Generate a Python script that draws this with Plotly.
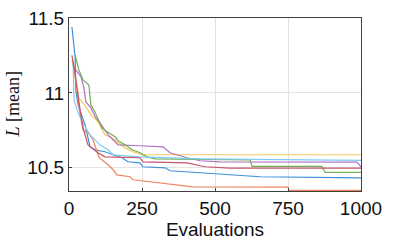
import plotly.graph_objects as go

# Evaluations / L[mean] values per run
x_blue = [10, 14, 21, 24, 31, 55, 72, 89, 123, 151, 182, 202, 243, 253, 329, 346, 449, 585, 654, 1000]
y_blue = [11.44, 11.373, 11.24, 11.007, 10.92, 10.787, 10.64, 10.62, 10.607, 10.587, 10.567, 10.54, 10.533, 10.507, 10.5, 10.48, 10.467, 10.453, 10.44, 10.433]

x_orange = [15, 38, 48, 72, 82, 96, 103, 134, 151, 164, 209, 219, 271, 425, 750, 753, 1000]
y_orange = [11.2, 10.853, 10.753, 10.72, 10.687, 10.6, 10.567, 10.52, 10.487, 10.453, 10.44, 10.42, 10.407, 10.373, 10.371, 10.349, 10.349]

x_yellow = [10, 24, 34, 58, 75, 99, 123, 147, 168, 192, 219, 250, 1000]
y_yellow = [11.22, 11.087, 10.967, 10.907, 10.853, 10.807, 10.72, 10.7, 10.667, 10.633, 10.607, 10.587, 10.587]

x_purple = [17, 24, 41, 51, 58, 75, 92, 106, 134, 151, 168, 243, 322, 346, 404, 449, 517, 986, 1000]
y_purple = [11.173, 11.153, 11.107, 11.033, 10.94, 10.9, 10.833, 10.8, 10.72, 10.687, 10.653, 10.647, 10.64, 10.6, 10.567, 10.547, 10.54, 10.538, 10.507]

x_green = [21, 34, 48, 68, 75, 89, 113, 130, 158, 168, 192, 216, 243, 267, 295, 620, 627, 866, 877, 1000]
y_green = [11.253, 11.153, 11.087, 11.053, 10.92, 10.873, 10.767, 10.74, 10.707, 10.68, 10.653, 10.62, 10.6, 10.573, 10.56, 10.553, 10.51, 10.509, 10.469, 10.469]

x_lightblue = [14, 17, 31, 51, 72, 106, 134, 151, 192, 243, 449, 1000]
y_lightblue = [11.22, 10.953, 10.867, 10.787, 10.72, 10.653, 10.62, 10.587, 10.58, 10.573, 10.56, 10.55]

x_red = [10, 21, 38, 48, 65, 99, 123, 243, 253, 404, 466, 551, 1000]
y_red = [11.25, 11.12, 10.887, 10.767, 10.653, 10.6, 10.573, 10.567, 10.54, 10.533, 10.507, 10.498, 10.498]

series = [
    (x_blue, y_blue, "#3f8fd8"),
    (x_orange, y_orange, "#ec8660"),
    (x_yellow, y_yellow, "#f5c862"),
    (x_purple, y_purple, "#b172c6"),
    (x_green, y_green, "#72ad56"),
    (x_lightblue, y_lightblue, "#7dcdf2"),
    (x_red, y_red, "#c8546a"),
]

x_ticks = [0, 250, 500, 750, 1000]
y_ticks = [10.5, 11, 11.5]
y_tick_text = ["10.5", "11", "11.5"]

fig = go.Figure()
for xs, ys, c in series:
    fig.add_trace(go.Scatter(x=xs, y=ys, mode="lines",
                             line=dict(color=c, width=1.2), showlegend=False))

axis_common = dict(
    showline=True, mirror=True, linecolor="#404040", linewidth=1,
    showgrid=True, gridcolor="#e3e3e3", gridwidth=1,
    ticks="inside", ticklen=3, tickcolor="#404040",
    zeroline=False, automargin=False,
    tickfont=dict(family="Liberation Sans, Arial, sans-serif", size=19, color="#111111"),
)

fig.update_layout(
    width=399, height=247,
    margin=dict(l=69, r=38, t=18, b=56),
    paper_bgcolor="white", plot_bgcolor="white",
    xaxis=dict(range=[0, 1000], tickvals=x_ticks, **axis_common,
               title=dict(text="Evaluations", standoff=4,
                          font=dict(family="Liberation Sans, Arial, sans-serif", size=19, color="#111111"))),
    yaxis=dict(range=[10.345, 11.5], tickvals=y_ticks, ticktext=y_tick_text, **axis_common),
    annotations=[dict(
        text="<i>L</i> [mean]", textangle=-90, xref="paper", yref="paper",
        x=-0.195, y=0.5, xanchor="center", yanchor="middle", showarrow=False,
        font=dict(family="Liberation Serif, Times New Roman, serif", size=18, color="#111111"),
    )],
)

fig.write_html("out.html", config={"displayModeBar": False},
               post_script="document.body.style.margin='0';document.body.style.overflow='hidden';")
